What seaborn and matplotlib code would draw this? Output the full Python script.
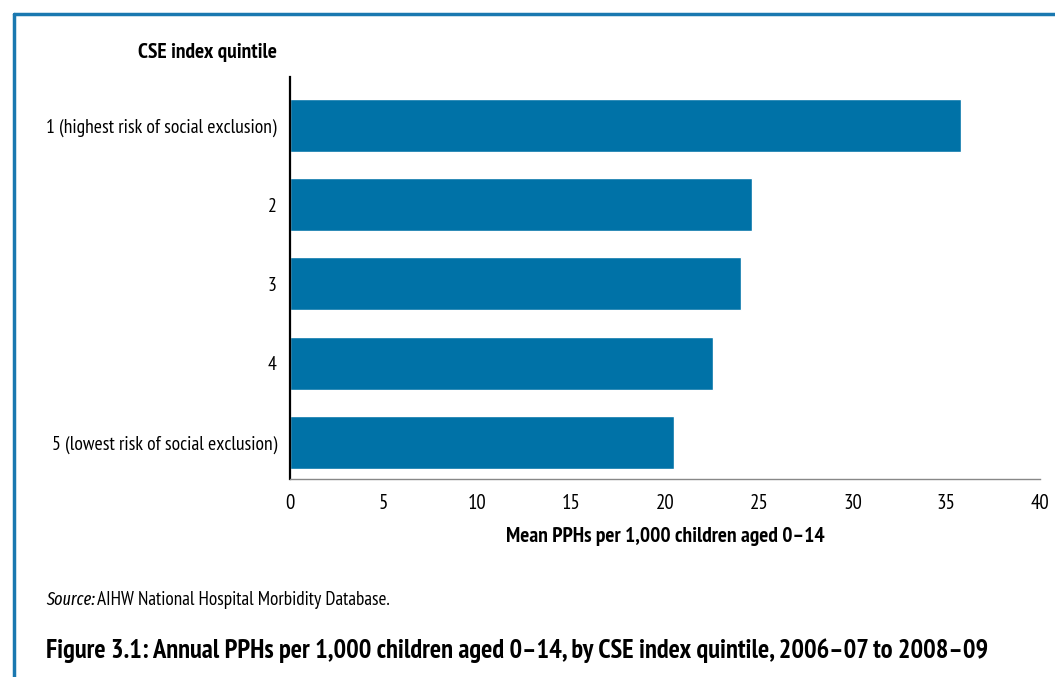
import pandas as pd
import seaborn as sns
import matplotlib.pyplot as plt

# Values
quintiles = ["1 (highest risk of social exclusion)", "2", "3", "4", "5 (lowest risk of social exclusion)"]
mean_pphs = [35.8, 24.65, 24.05, 22.55, 20.5]
x_ticks = [0, 5, 10, 15, 20, 25, 30, 35, 40]

df = pd.DataFrame({"quintile": quintiles, "pphs": mean_pphs})

sns.set_style("white")
plt.rcParams['font.family'] = ['PT Sans Narrow', 'DejaVu Sans']
plt.rcParams['text.color'] = 'black'
plt.rcParams['axes.labelcolor'] = 'black'

fig = plt.figure(figsize=(10.55, 6.77), dpi=100)
ax = fig.add_axes([0.2749, 0.2925, 0.7109, 0.5938])

sns.barplot(data=df, x="pphs", y="quintile", color="#0072a7", saturation=1,
            width=0.67, ax=ax)

ax.set_xlim(0, 40)
ax.set_ylim(4.46, -0.61)
ax.set_xticks(x_ticks)
ax.set_xticklabels([str(t) for t in x_ticks], fontsize=15)
ax.tick_params(axis="x", direction="out", length=6, width=1, color="#888888",
               pad=5, labelcolor="black")
ax.tick_params(axis="y", length=0, labelsize=14.1, pad=9.5, labelcolor="black")

for side in ["top", "right"]:
    ax.spines[side].set_visible(False)
ax.spines["left"].set_color("black")
ax.spines["left"].set_linewidth(1.6)
ax.spines["bottom"].set_color("#888888")
ax.spines["bottom"].set_linewidth(1.0)

ax.set_ylabel("")
ax.set_xlabel("Mean PPHs per 1,000 children aged 0\u201314", fontsize=15.4,
              fontweight="bold", labelpad=10)

fig.text(277 / 1055, 1 - 53 / 677, "CSE index quintile", ha="right", va="center",
         fontsize=15.5, fontweight="bold")

src_y = 1 - 600 / 677
fig.text(46 / 1055, src_y, "Source:", ha="left", va="center", fontsize=12.8,
         style="italic", family=["Fira Sans Extra Condensed", "DejaVu Sans"])
fig.text(97 / 1055, src_y, "AIHW National Hospital Morbidity Database.",
         ha="left", va="center", fontsize=13.9)

fig.text(46 / 1055, 1 - 651 / 677,
         "Figure 3.1: Annual PPHs per 1,000 children aged 0\u201314, by CSE index quintile, 2006\u201307 to 2008\u201309",
         ha="left", va="center", fontsize=19.1, fontweight="bold")

# blue frame along the top and left
frame_color = "#1a78b0"
fig.add_artist(plt.Line2D([14 / 1055, 14 / 1055], [0, 1 - 14 / 677],
                          transform=fig.transFigure, color=frame_color, linewidth=2.5))
fig.add_artist(plt.Line2D([14 / 1055, 1], [1 - 14 / 677, 1 - 14 / 677],
                          transform=fig.transFigure, color=frame_color, linewidth=2.5))

fig.savefig("out.png", dpi=100)
